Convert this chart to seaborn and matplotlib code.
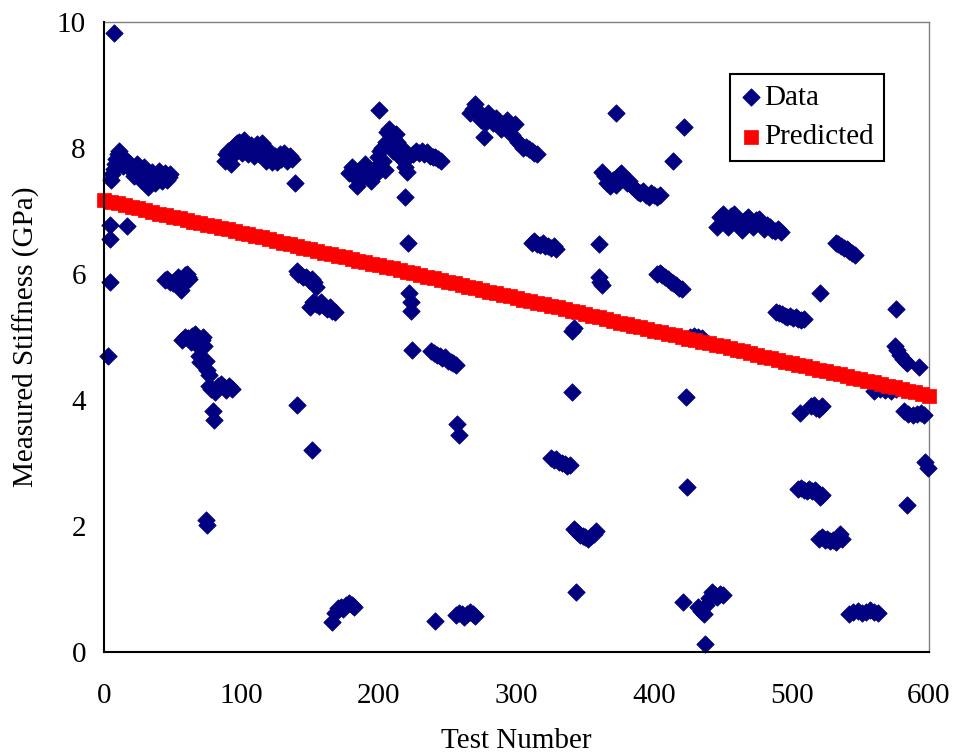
import matplotlib
matplotlib.use("Agg")
import matplotlib.pyplot as plt
import seaborn as sns
import pandas as pd

# ---------------- data ----------------
block_1 = [(3, 4.70), (4, 5.87), (4, 6.56), (4, 6.77), (7, 9.82), (17, 6.76),
           (5, 7.50), (6, 7.58), (7, 7.66), (8, 7.74), (9, 7.82), (10, 7.90), (11, 7.95), (12, 7.88), (13, 7.80), (14, 7.72),
           (17, 7.80), (18, 7.76), (19, 7.72), (20, 7.68), (21, 7.62), (22, 7.55), (23, 7.70), (24, 7.74), (25, 7.66),
           (26, 7.58), (27, 7.50), (28, 7.60), (29, 7.70), (30, 7.55), (31, 7.45), (32, 7.38), (33, 7.48), (34, 7.56),
           (35, 7.62), (36, 7.52), (37, 7.44), (38, 7.50), (39, 7.58), (40, 7.64), (41, 7.55), (42, 7.47), (43, 7.52),
           (44, 7.60), (45, 7.56), (46, 7.50), (47, 7.54), (48, 7.58),
           (44, 5.90), (46, 5.92), (48, 5.88), (50, 5.85), (52, 5.90), (54, 5.95), (55, 5.80), (56, 5.75), (57, 5.85),
           (58, 5.92), (59, 5.98), (60, 6.00), (61, 5.95), (62, 5.92),
           (57, 4.95), (59, 5.00), (61, 4.98), (63, 4.92), (64, 5.02), (66, 5.05), (67, 4.96), (68, 4.85), (69, 4.70),
           (70, 4.60), (71, 4.95), (72, 5.00), (73, 4.85), (74, 4.62), (75, 4.48), (76, 4.40),
           (74, 2.10), (75, 2.02),
           (76, 4.22), (78, 4.18), (79, 3.82), (80, 3.68), (81, 4.12), (83, 4.22), (85, 4.26), (87, 4.20), (89, 4.16),
           (91, 4.22), (93, 4.18),
           (88, 7.80), (89, 7.90), (90, 7.95), (91, 7.85), (92, 7.75), (93, 7.88), (94, 8.00), (95, 8.05), (96, 7.95),
           (97, 8.08), (98, 8.10), (99, 8.02)]

block_2 = [(100, 7.92), (101, 8.10), (102, 8.12), (103, 8.05), (104, 7.95), (105, 7.90), (106, 8.00), (107, 8.05),
           (108, 7.95), (109, 7.88), (110, 8.00), (111, 8.06), (112, 7.98), (113, 7.90), (114, 8.02), (115, 8.08),
           (116, 7.96), (117, 7.85), (118, 7.80), (119, 7.90), (120, 7.95), (121, 7.85), (122, 7.78), (123, 7.82),
           (124, 7.88), (125, 7.84), (126, 7.78), (127, 7.86), (128, 7.90), (129, 7.82), (130, 7.88), (131, 7.92),
           (132, 7.85), (133, 7.80), (135, 7.88), (137, 7.82),
           (139, 7.44), (140, 3.92), (151, 3.20),
           (140, 6.05), (141, 6.00), (143, 5.98), (145, 5.95), (147, 5.96), (149, 5.90), (151, 5.92), (153, 5.88), (154, 5.80),
           (150, 5.48), (152, 5.55), (154, 5.52), (156, 5.50), (158, 5.55), (160, 5.50), (162, 5.45), (164, 5.48),
           (166, 5.42), (168, 5.40),
           (166, 0.48), (168, 0.62), (170, 0.70), (172, 0.72), (174, 0.68), (176, 0.74), (178, 0.78), (180, 0.75), (182, 0.72),
           (178, 7.60), (180, 7.70), (182, 7.55), (184, 7.40), (186, 7.50), (188, 7.65), (190, 7.75), (192, 7.60),
           (194, 7.48), (196, 7.55), (198, 7.70), (199, 7.85)]

block_3 = [(200, 8.60), (201, 7.95), (202, 8.00), (203, 7.80), (204, 7.65), (205, 8.10), (206, 8.25), (207, 8.30),
           (208, 8.20), (209, 8.05), (210, 7.95), (211, 8.15), (212, 8.22), (213, 8.10), (214, 7.98), (215, 7.85),
           (216, 7.90), (217, 8.00), (218, 7.80), (219, 7.70), (220, 7.62),
           (219, 7.22), (221, 6.50), (222, 5.70), (223, 5.55), (223, 5.42), (224, 4.80),
           (225, 7.90), (227, 7.95), (229, 7.92), (231, 7.96), (233, 7.90), (235, 7.93), (237, 7.88), (239, 7.85),
           (241, 7.86), (243, 7.82), (245, 7.80),
           (238, 4.78), (240, 4.75), (242, 4.72), (244, 4.70), (246, 4.66), (248, 4.68), (250, 4.62), (252, 4.60),
           (254, 4.58), (256, 4.55),
           (241, 0.50), (257, 3.62), (258, 3.45),
           (256, 0.58), (258, 0.62), (260, 0.60), (262, 0.56), (264, 0.60), (266, 0.64), (268, 0.60), (270, 0.57),
           (266, 8.55), (268, 8.62), (270, 8.70), (272, 8.58), (274, 8.45), (276, 8.18), (277, 8.40), (279, 8.55),
           (281, 8.50), (283, 8.40), (285, 8.48), (287, 8.42), (289, 8.30), (291, 8.35), (293, 8.45), (295, 8.30),
           (297, 8.20), (299, 8.38)]

block_4 = [(301, 8.10), (303, 8.05), (305, 8.00), (307, 8.02), (309, 7.98), (311, 7.95), (313, 7.92), (315, 7.90),
           (311, 6.50), (313, 6.52), (315, 6.48), (317, 6.46), (319, 6.50), (321, 6.45), (323, 6.44), (325, 6.42),
           (327, 6.45), (329, 6.40),
           (325, 3.08), (327, 3.05), (329, 3.06), (331, 3.02), (333, 3.00), (335, 2.98), (337, 2.95), (339, 2.97),
           (340, 5.10), (342, 5.14), (340, 4.12), (343, 0.95),
           (342, 1.95), (344, 1.90), (346, 1.86), (348, 1.84), (350, 1.82), (352, 1.80), (354, 1.84), (356, 1.88), (358, 1.92),
           (360, 6.47), (360, 5.95), (361, 5.88), (362, 5.82), (372, 8.55),
           (362, 7.62), (364, 7.55), (366, 7.45), (368, 7.40), (370, 7.50), (372, 7.42), (374, 7.55), (376, 7.60),
           (378, 7.52), (380, 7.45), (382, 7.48), (384, 7.40), (386, 7.35), (388, 7.30), (390, 7.28), (392, 7.32),
           (394, 7.25), (396, 7.22), (398, 7.28)]

block_5 = [(400, 7.25), (402, 7.22), (404, 7.26),
           (402, 6.00), (404, 6.02), (406, 5.98), (408, 5.95), (410, 5.92), (412, 5.88), (414, 5.85), (416, 5.82),
           (418, 5.78), (420, 5.76),
           (414, 7.79), (422, 8.34), (423, 4.05), (424, 2.62), (421, 0.80),
           (426, 5.00), (429, 5.02), (432, 5.00), (435, 4.98),
           (432, 0.72), (434, 0.65), (436, 0.60), (437, 0.13), (438, 0.75), (440, 0.85), (442, 0.95), (444, 0.90),
           (446, 0.88), (448, 0.92), (450, 0.90),
           (446, 6.75), (448, 6.90), (450, 6.95), (452, 6.85), (454, 6.75), (456, 6.92), (458, 6.96), (460, 6.88),
           (462, 6.78), (464, 6.70), (466, 6.85), (468, 6.90), (470, 6.82), (472, 6.75), (474, 6.85), (476, 6.88),
           (478, 6.80), (480, 6.72), (482, 6.78), (484, 6.75), (486, 6.70), (488, 6.68), (490, 6.72), (492, 6.66),
           (489, 5.40), (491, 5.38), (493, 5.36), (495, 5.34), (497, 5.32), (499, 5.33)]

block_6 = [(501, 5.30), (503, 5.31), (505, 5.28), (507, 5.27), (509, 5.29),
           (506, 3.80), (514, 3.90), (516, 3.92), (518, 3.88), (520, 3.86), (522, 3.90), (521, 5.70),
           (505, 2.58), (507, 2.60), (509, 2.57), (511, 2.56), (513, 2.58), (515, 2.55), (517, 2.57), (519, 2.52),
           (521, 2.46), (522, 2.50),
           (520, 1.80), (522, 1.82), (524, 1.78), (526, 1.80), (528, 1.76), (530, 1.78), (532, 1.74), (534, 1.82),
           (535, 1.88), (537, 1.80),
           (532, 6.50), (534, 6.48), (536, 6.45), (538, 6.42), (540, 6.40), (542, 6.36), (544, 6.33), (546, 6.30),
           (542, 0.60), (545, 0.63), (548, 0.65), (551, 0.62), (554, 0.64), (557, 0.66), (560, 0.63), (563, 0.62),
           (560, 4.15), (564, 4.18), (568, 4.16), (572, 4.14), (576, 4.17),
           (576, 5.44), (575, 4.85), (577, 4.80), (579, 4.72), (581, 4.65), (583, 4.60), (584, 4.58), (593, 4.52),
           (582, 3.82), (585, 3.78), (588, 3.76), (591, 3.78), (594, 3.80), (596, 3.76),
           (597, 3.02), (599, 2.92), (584, 2.34)]

predicted_tests = list(range(0, 601, 5))
predicted_values = [
    7.17, 7.14, 7.12, 7.09, 7.07, 7.04, 7.02, 6.99, 6.96, 6.94, 6.91, 6.89, 6.86, 6.83, 6.81, 6.78, 6.76, 6.73, 6.71, 6.68,
    6.65, 6.63, 6.60, 6.58, 6.55, 6.52, 6.50, 6.47, 6.45, 6.42, 6.40, 6.37, 6.34, 6.32, 6.29, 6.27, 6.24, 6.21, 6.19, 6.16,
    6.14, 6.11, 6.09, 6.06, 6.03, 6.01, 5.98, 5.96, 5.93, 5.90, 5.88, 5.85, 5.83, 5.80, 5.78, 5.75, 5.72, 5.70, 5.67, 5.65,
    5.62, 5.59, 5.57, 5.54, 5.52, 5.49, 5.47, 5.44, 5.41, 5.39, 5.36, 5.34, 5.31, 5.28, 5.26, 5.23, 5.21, 5.18, 5.16, 5.13,
    5.10, 5.08, 5.05, 5.03, 5.00, 4.97, 4.95, 4.92, 4.90, 4.87, 4.85, 4.82, 4.79, 4.77, 4.74, 4.72, 4.69, 4.66, 4.64, 4.61,
    4.59, 4.56, 4.54, 4.51, 4.48, 4.46, 4.43, 4.41, 4.38, 4.35, 4.33, 4.30, 4.28, 4.25, 4.23, 4.20, 4.17, 4.15, 4.12, 4.10,
    4.07]

x_ticks = [0, 100, 200, 300, 400, 500, 600]
y_ticks = [0, 2, 4, 6, 8, 10]

# ---------------- build frames ----------------
all_points = block_1 + block_2 + block_3 + block_4 + block_5 + block_6
data_df = pd.DataFrame(all_points, columns=["Test Number", "Stiffness"])
pred_df = pd.DataFrame({"Test Number": predicted_tests, "Stiffness": predicted_values})

# ---------------- style ----------------
sns.set_theme(style="white")
plt.rcParams['font.family'] = ['Liberation Serif', 'DejaVu Serif']
plt.rcParams['text.color'] = 'black'
plt.rcParams['axes.labelcolor'] = 'black'
plt.rcParams['xtick.color'] = 'black'
plt.rcParams['ytick.color'] = 'black'

fig = plt.figure(figsize=(9.6, 7.54), dpi=100)
ax = fig.add_axes([104 / 960, 1 - 652 / 754, 825 / 960, 630 / 754])

sns.scatterplot(data=data_df, x="Test Number", y="Stiffness", ax=ax, marker="D", s=78,
                color="#000080", edgecolor="#000080", linewidth=0.6, label="Data", zorder=3, clip_on=False)
sns.scatterplot(data=pred_df, x="Test Number", y="Stiffness", ax=ax, marker="s", s=100,
                color="#FF0000", edgecolor="#FF0000", linewidth=0.5, label="Predicted", zorder=4, clip_on=False)

ax.set_xlim(0, 600)
ax.set_ylim(0, 10)
ax.set_xticks(x_ticks)
ax.set_yticks(y_ticks)
ax.set_xticklabels([str(v) for v in x_ticks])
ax.set_yticklabels([str(v) for v in y_ticks])

ax.tick_params(axis='both', direction='inout', length=16, width=1.3, colors='black', labelsize=21,
               labelcolor='black')
ax.tick_params(axis='x', pad=14)
ax.tick_params(axis='y', pad=5)

ax.set_xlabel("Test Number", fontsize=21, labelpad=14, color='black')
ax.set_ylabel("Measured Stiffness (GPa)", fontsize=21, labelpad=12, color='black')

for side in ['left', 'bottom']:
    ax.spines[side].set_color('black')
    ax.spines[side].set_linewidth(1.5)
for side in ['top', 'right']:
    ax.spines[side].set_color('#808080')
    ax.spines[side].set_linewidth(1.0)
ax.spines['left'].set_zorder(5)
ax.spines['bottom'].set_zorder(5)

leg = ax.legend(loc='upper left', bbox_to_anchor=(0.759, 0.917), frameon=True, fancybox=False,
                edgecolor='black', fontsize=21, borderpad=0.35, labelspacing=0.45,
                handletextpad=0.1, handlelength=0.7, borderaxespad=0, scatterpoints=1)
leg.get_frame().set_linewidth(1.5)
leg.get_frame().set_facecolor('white')
leg.get_frame().set_alpha(1)
for t in leg.get_texts():
    t.set_color('black')

fig.savefig("out.png", dpi=100)
